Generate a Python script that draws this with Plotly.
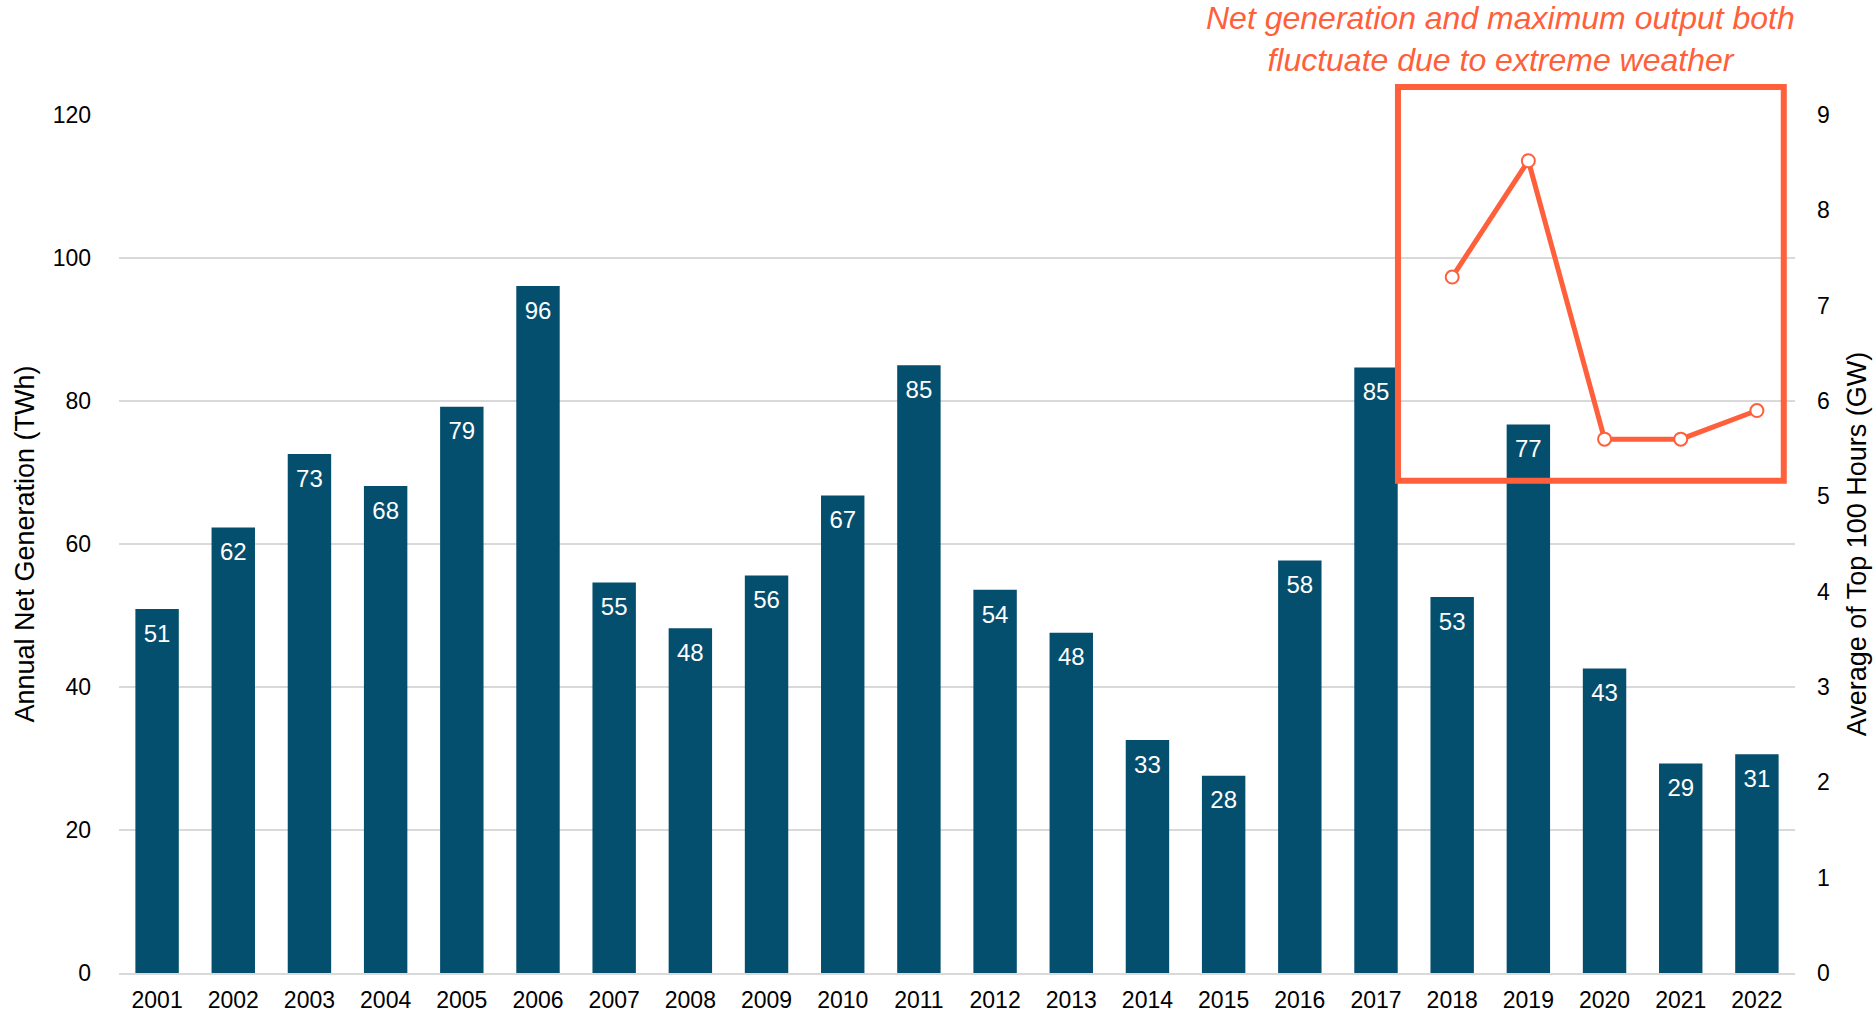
import plotly.graph_objects as go

years = [str(y) for y in range(2001, 2023)]
net_generation = [50.9, 62.3, 72.6, 68.1, 79.2, 96.1, 54.6, 48.2, 55.6, 66.8, 85.0,
                  53.6, 47.6, 32.6, 27.6, 57.7, 84.7, 52.6, 76.7, 42.6, 29.3, 30.6]
bar_labels = ["51", "62", "73", "68", "79", "96", "55", "48", "56", "67", "85",
              "54", "48", "33", "28", "58", "85", "53", "77", "43", "29", "31"]
line_years = ["2018", "2019", "2020", "2021", "2022"]
top100_avg = [7.3, 8.52, 5.6, 5.6, 5.9]

BAR = "#044E6E"
ORANGE = "#FF5F3A"
FONT = "Liberation Sans, Arial, sans-serif"

fig = go.Figure()
fig.add_trace(go.Bar(
    x=years, y=net_generation,
    marker=dict(color=BAR, line=dict(width=0)),
    showlegend=False, hoverinfo="x+y",
))
fig.add_trace(go.Scatter(
    x=years, y=net_generation, mode="markers+text", text=bar_labels,
    textposition="bottom center",
    marker=dict(size=22, color="rgba(0,0,0,0)"),
    textfont=dict(color="white", size=24, family=FONT),
    showlegend=False, hoverinfo="skip",
))
fig.add_trace(go.Scatter(
    x=line_years, y=top100_avg, yaxis="y2", mode="lines+markers",
    line=dict(color=ORANGE, width=5),
    marker=dict(size=13, color="white", line=dict(color=ORANGE, width=2)),
    showlegend=False,
))

fig.update_layout(
    width=1876, height=1016,
    margin=dict(l=119, r=81, t=115, b=43, autoexpand=False),
    plot_bgcolor="white", paper_bgcolor="white",
    font=dict(family=FONT, size=23, color="#000000"),
    bargap=0.43,
    xaxis=dict(type="category", range=[-0.5, 21.5], showgrid=False, ticks="",
               showline=True, linecolor="#d9d9d9", linewidth=2, automargin=False,
               ticklabelstandoff=5,
               tickfont=dict(size=23, color="#000000")),
    yaxis=dict(range=[0, 120], dtick=20, showgrid=True, gridcolor="#d9d9d9",
               gridwidth=2, zeroline=False, ticks="", automargin=False,
               ticklabelstandoff=27,
               title=dict(text="Annual Net Generation (TWh)", font=dict(size=27), standoff=10),
               tickfont=dict(size=23, color="#000000")),
    yaxis2=dict(range=[0, 9], dtick=1, overlaying="y", side="right", showgrid=False,
                zeroline=False, ticks="", automargin=False,
                ticklabelstandoff=21,
                title=dict(text="Average of Top 100 Hours (GW)", font=dict(size=27), standoff=18),
                tickfont=dict(size=23, color="#000000")),
    shapes=[dict(type="rect", xref="paper", yref="paper",
                 x0=0.7631, x1=0.9933, y0=0.5738, y1=1.0325,
                 line=dict(color=ORANGE, width=6), fillcolor="rgba(0,0,0,0)",
                 layer="above")],
    annotations=[dict(xref="paper", yref="paper", x=0.824, y=1.088, xanchor="center",
                      yanchor="middle", showarrow=False,
                      text="<i>Net generation and maximum output both<br>fluctuate due to extreme weather</i>",
                      font=dict(color=ORANGE, size=32, family=FONT))],
)

fig.write_html("out.html", config={"displayModeBar": False},
               post_script="document.body.style.margin='0';document.body.style.overflow='hidden';")
